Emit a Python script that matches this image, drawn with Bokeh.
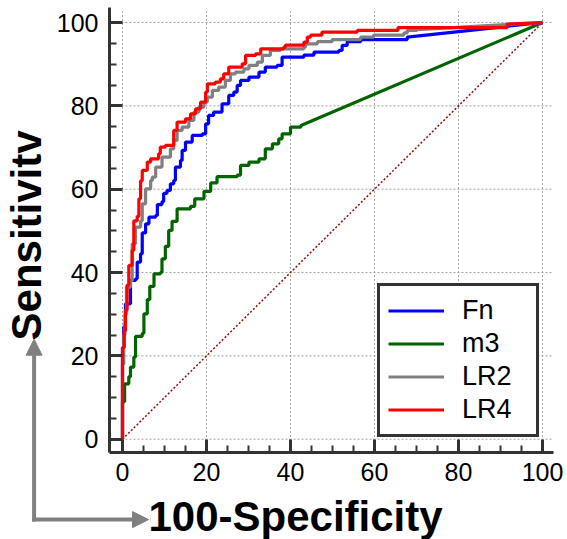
import numpy as np
from bokeh.plotting import figure
from bokeh.models import (Range1d, FixedTicker, Legend, LegendItem, Label, Arrow,
                          NormalHead, LinearAxis)
from bokeh.embed import file_html
from bokeh.resources import INLINE

# ---------------- data ----------------
# each curve: points (fpr, tpr) where the curve rises to tpr at fpr; last point joined directly
fn_fpr = [0, 0, 0.3, 0.7, 1.9, 3.1, 3.5, 4.3, 4.7, 5.5, 6.3, 7.9, 8.3, 9.4, 9.8, 10.6, 11.4, 12.2,
          12.6, 13.8, 14.2, 15.0, 16.6, 19.0, 19.8, 20.5, 21.7, 23.7, 25.3, 26.5, 27.3, 28.1,
          30.1, 32.5, 34.0, 36.8, 38.0, 43.2, 45.6, 51.5, 52.3, 53.5, 56.7, 67.8, 100]
fn_tpr = [0, 22, 27, 32.5, 38.1, 38.5, 42.5, 44.5, 49.5, 51.7, 53.3, 53.7, 56.3, 57.0, 59.0, 59.7,
          61.3, 62.1, 65.3, 66.9, 69.3, 71.3, 72.9, 73.3, 75.7, 77.7, 78.5, 80.5, 82.5, 83.3,
          84.9, 86.1, 86.9, 88.1, 89.3, 89.7, 91.7, 92.2, 92.9, 93.3, 94.5, 95.4, 95.9, 96.5, 100]

m3_fpr = [0, 0, 0.5, 1.5, 1.9, 2.7, 3.1, 4.7, 5.1, 5.9, 6.5, 7.5, 9.0, 9.4, 10.2, 11.0, 11.8,
          13.0, 16.2, 17.2, 19.4, 21.0, 22.5, 27.3, 28.1, 30.1, 32.5, 34.0, 35.7, 37.2, 38.0,
          40.0, 42.5, 100]
m3_tpr = [0, 9, 13.3, 15.0, 17.3, 19.7, 24.7, 25.4, 30.1, 33.5, 36.7, 39.7, 40.0, 43.3, 46.3,
          50.1, 52.3, 55.3, 55.9, 57.7, 59.5, 61.5, 63.0, 63.4, 65.7, 66.5, 67.3, 69.7, 70.9,
          72.1, 73.3, 74.9, 75.3, 100]

lr2_fpr = [0, 0, 0.3, 0.6, 0.95, 1.9, 2.3, 3.1, 4.3, 4.7, 5.5, 6.7, 7.1, 7.9, 9.4, 11.4, 12.2,
           13.0, 14.2, 15.8, 17.0, 18.2, 19.4, 20.2, 21.4, 22.9, 24.5, 25.7, 26.9, 28.9, 30.1,
           32.1, 33.3, 35.2, 37.6, 43.2, 43.6, 46.4, 49.9, 56.7, 59.8, 67.0, 67.8, 70.1, 100]
lr2_tpr = [0, 18, 25, 30, 36.5, 38.0, 46.9, 50.9, 52.4, 56.5, 60.1, 62.1, 62.9, 65.3, 67.7, 69.7,
           71.7, 74.1, 74.9, 76.5, 78.5, 79.7, 80.9, 82.1, 83.7, 84.5, 86.1, 87.7, 88.1, 88.9,
           89.7, 90.5, 92.1, 93.3, 93.7, 94.1, 94.9, 95.4, 95.9, 96.5, 97.0, 97.5, 98.1, 98.3, 100]

lr4_fpr = [0, 0, 0.4, 0.7, 1.1, 1.5, 2.3, 2.7, 3.5, 3.9, 4.3, 4.7, 5.9, 6.7, 8.6, 9.0, 10.2, 12.2,
           13.0, 15.0, 16.2, 17.4, 18.6, 19.8, 20.2, 22.1, 23.3, 24.1, 25.3, 28.5, 29.3, 31.7,
           32.9, 38.4, 38.8, 43.2, 44.0, 44.8, 47.5, 55.9, 65.6, 91.6, 100]
lr4_tpr = [0, 22, 26, 31, 37, 41.7, 45.3, 52.4, 53.5, 57.7, 62.0, 64.5, 66.5, 67.3, 68.5, 70.1,
           70.5, 74.1, 76.1, 76.9, 78.1, 79.3, 80.9, 83.3, 85.3, 85.7, 86.5, 87.7, 89.3, 90.1,
           92.1, 92.5, 93.7, 94.1, 94.6, 95.3, 96.5, 97.0, 97.7, 98.1, 98.8, 99.6, 100]

names = ["Fn", "m3", "LR2", "LR4"]
colors = ["#0000ff", "#006400", "#808080", "#ff0000"]
ticks = [0, 20, 40, 60, 80, 100]
minor = list(range(0, 101, 5))
ref_x = [0, 100]
ref_y = [0, 100]
x_title = "100-Specificity"
y_title = "Sensitivitv"


def staircase(fx, fy):
    xs, ys = [fx[0]], [fy[0]]
    for i in range(1, len(fx) - 1):
        xs += [fx[i], fx[i]]
        ys += [ys[-1], fy[i]]
    xs.append(fx[-1])
    ys.append(fy[-1])
    return xs, ys


FONT = "Liberation Sans"
W, H = 567, 539
# data->pixel mapping of the reference: x=0 at px 122, 4.2 px/unit; y=0 at py 438.7, 4.1667 px/unit
X0, SX = 122.0, 4.2
Y0, SY = 438.7, 4.1667
xr = Range1d(-X0 / SX, (W - X0) / SX)
yr = Range1d(-(H - Y0) / SY, Y0 / SY)

AX_X = -3.1    # where the y axis sits (data x)
AX_Y = -3.3    # where the x axis sits (data y)
X_END = 102.6
Y_END = 103.5

p = figure(width=W, height=H, output_backend="svg", toolbar_location=None,
           x_range=xr, y_range=yr, x_axis_location=None, y_axis_location=None,
           min_border=0, min_border_left=0, min_border_right=0,
           min_border_top=0, min_border_bottom=0)
p.outline_line_color = None
p.background_fill_color = "white"
p.border_fill_color = "white"
p.xgrid.visible = False
p.ygrid.visible = False

xaxis = LinearAxis(fixed_location=AX_Y, bounds=(AX_X, X_END))
yaxis = LinearAxis(fixed_location=AX_X, bounds=(AX_Y, Y_END))
for ax in (xaxis, yaxis):
    ax.ticker = FixedTicker(ticks=ticks, minor_ticks=minor)
    ax.axis_line_color = "#333333"
    ax.axis_line_width = 3
    ax.major_tick_line_color = "#333333"
    ax.major_tick_line_width = 3
    ax.major_tick_in = 13
    ax.major_tick_out = 0
    ax.minor_tick_line_color = "#333333"
    ax.minor_tick_line_width = 2
    ax.minor_tick_in = 7
    ax.minor_tick_out = 0
    ax.major_label_text_font = FONT
    ax.major_label_text_font_size = "25px"
    ax.major_label_text_color = "black"
xaxis.major_label_standoff = 10
yaxis.major_label_standoff = 11
p.add_layout(xaxis, "below")
p.add_layout(yaxis, "left")

# dotted grid, limited to the plot area
p.segment(x0=ticks, y0=[AX_Y] * len(ticks), x1=ticks, y1=[Y_END - 0.8] * len(ticks),
          line_color="#a0a0a0", line_width=1, line_dash="2 2")
p.segment(x0=[AX_X] * len(ticks), y0=ticks, x1=[X_END] * len(ticks), y1=ticks,
          line_color="#a0a0a0", line_width=1, line_dash="2 2")

p.line(ref_x, ref_y, line_color="#8b1010", line_width=1.5, line_dash="2 2")

data = [(fn_fpr, fn_tpr), (m3_fpr, m3_tpr), (lr2_fpr, lr2_tpr), (lr4_fpr, lr4_tpr)]
rends = {}
for name, col, (fx, fy) in zip(names, colors, data):
    xs, ys = staircase(fx, fy)
    rends[name] = p.line(xs, ys, line_color=col, line_width=3.2)

base = [r for r in p.renderers if r not in rends.values()]
p.renderers = base + [rends["m3"], rends["Fn"], rends["LR2"], rends["LR4"]]

legend = Legend(items=[LegendItem(label=n, renderers=[rends[n]]) for n in names],
                location=(377, H - 437), orientation="vertical")
legend.border_line_color = "#333333"
legend.border_line_alpha = 1.0
legend.border_line_width = 3
legend.background_fill_color = "white"
legend.background_fill_alpha = 1
legend.label_text_font = FONT
legend.label_text_font_size = "27px"
legend.label_text_color = "black"
legend.glyph_width = 56
legend.glyph_height = 33
legend.label_height = 33
legend.label_width = 66
legend.label_standoff = 18
legend.spacing = 0
legend.padding = 8
legend.margin = 0
p.add_layout(legend, "center")

# axis titles
p.add_layout(Label(x=41.2, y=-18.6, text=x_title, text_align="center",
                   text_baseline="alphabetic", text_font=FONT, text_font_style="bold",
                   text_font_size="42px", text_color="black"))
p.add_layout(Label(x=-22.8, y=48.9, text=y_title, angle=np.pi / 2, text_align="center",
                   text_baseline="middle", text_font=FONT, text_font_style="bold",
                   text_font_size="42px", text_color="black"))

# L-shaped grey arrows
arrow_col = "#808080"
CX, CY = -21.05, -19.3
p.add_layout(Arrow(x_start=CX, y_start=CY, x_end=CX, y_end=24.0,
                   line_color=arrow_col, line_width=4, line_cap="square",
                   end=NormalHead(size=16, fill_color=arrow_col, line_color=arrow_col)))
p.add_layout(Arrow(x_start=CX, y_start=CY, x_end=6.2, y_end=CY,
                   line_color=arrow_col, line_width=4, line_cap="square",
                   end=NormalHead(size=16, fill_color=arrow_col, line_color=arrow_col)))

open("out.html", "w").write(file_html(p, INLINE))
